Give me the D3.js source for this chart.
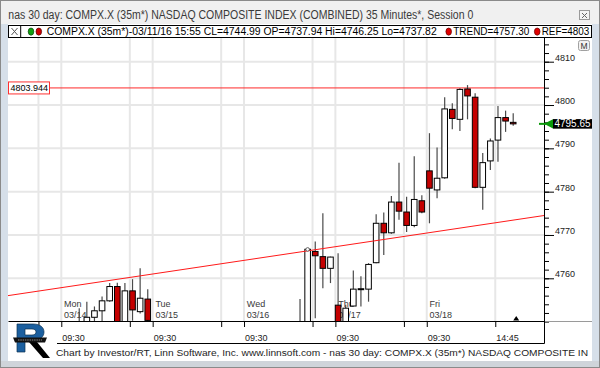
<!DOCTYPE html>
<html><head><meta charset="utf-8">
<script src="https://cdn.jsdelivr.net/npm/d3@7"></script>
<style>
body{margin:0;background:#f0f0f0;overflow:hidden}
svg{display:block}
text{font-family:"Liberation Sans",Arial,sans-serif}
</style>
</head><body><svg id="c" width="600" height="368"></svg>
<script>
// ---------------- DATA ----------------
const dayNames = ["Fri","Mon","Tue","Wed","Thu","Fri"];
const dayDates = ["03/11","03/14","03/15","03/16","03/17","03/18"];
const barTimes = ["09:30","10:05","10:40","11:15","11:50","12:25","13:00","13:35","14:10","14:45","15:20","15:55"];
const firstDayStartBar = 5; // 03/11 data on chart starts with 12:25 bar
// 35-minute OHLC bars, 03/11 12:25 ... 03/18 15:55
const opens = [
 4735,4737,4739,4736,4738,4741,4737.94,
 4745,4741,4744,4749.0,4751.0,4752.5,4754.8,4758.1,4749.8,4757.1,4752.3,4755.2,
 4733,4725,4720,4723,4726,4724,4727,4725,4728,4726,4730,4727,
 4726,4723,4727,4730,4732,4731,4734,4736,4744,4766.2,4765.0,4762.3,
 4753.8,4747,4753.6,4757.5,4757.5,4763.6,4772.7,4770.5,4777.6,4775.3,4772.2,4777.9,
 4784.8,4780.4,4783.2,4799.0,4796.7,4803.7,4801.8,4781.0,4787.1,4791.9,4797.1,4796.0];
const highs = [
 4739,4741,4742,4740,4743,4744,4746.25,
 4748,4746,4753.1,4754.6,4753.5,4755.8,4758.9,4759.0,4758.9,4759.8,4762.3,4757.5,
 4738,4729,4726,4728,4730,4729,4731,4730,4733,4732,4735,4733,
 4732,4729,4733,4735,4737,4736,4740,4755.2,4766.9,4768.5,4775.0,4765.0,
 4765.8,4753.9,4761.8,4760.5,4763.5,4774.8,4775.2,4779.0,4786.7,4778.8,4788.2,4779.2,
 4793.5,4790.2,4801.8,4800.4,4803.9,4804.6,4802.7,4788.9,4792.3,4799.8,4798.7,4798.1];
const lows = [
 4731,4734,4735,4733,4736,4736,4737.82,
 4738,4736,4742,4747,4749.8,4750.1,4754.6,4749.2,4749.3,4750.2,4751.9,4748.5,
 4722,4716,4714,4719,4722,4720,4723,4721,4724,4723,4726,4724,
 4719,4718,4724,4726,4728,4727,4730,4733,4738,4750.8,4757.7,4758.9,
 4744,4742,4753.5,4753.5,4754.6,4763.5,4765.4,4770.3,4773.5,4770.7,4771.8,4775.0,
 4772.7,4778.5,4783.0,4794.4,4794.0,4796.7,4780.8,4775.8,4785.0,4786.9,4793.8,4795.2];
const closes = [
 4737,4739,4736,4738,4741,4737.9,4744.99,
 4741,4744,4748,4751.0,4752.5,4754.8,4758.1,4749.6,4757.1,4752.7,4755.4,4750.28,
 4725,4720,4723,4726,4724,4727,4725,4728,4726,4730,4727,4728.67,
 4723,4727,4730,4732,4731,4734,4736,4744,4766.7,4765.2,4762.3,4764.9,
 4746,4753.1,4757.5,4757.6,4763.2,4772.7,4770.5,4777.6,4775.5,4772.2,4778.2,4775.3,
 4780.8,4783.1,4799.1,4796.9,4803.6,4802.1,4781.0,4786.7,4791.7,4797.1,4796.3,4795.65];
const refValue = 4803.944;
const trendBars = [0, 67];
const trendValues = [4756.0, 4773.6];
const trendAnchorBar = 39;
const lastPrice = 4795.65;
const yMinorTicks = d3.range(4750, 4815, 2);
const yMajorTicks = [4760, 4770, 4780, 4790, 4800, 4810];
const titleText = "nas 30 day: COMPX.X (35m*) NASDAQ COMPOSITE INDEX (COMBINED) 35 Minutes*, Session 0";
const legendMain = "COMPX.X (35m*)-03/11/16 15:55 CL=4744.99 OP=4737.94 Hi=4746.25 Lo=4737.82";
const legendTrend = "TREND=4757.30";
const legendRef = "REF=4803";
const footerText = "Chart by Investor/RT, Linn Software, Inc. www.linnsoft.com - nas 30 day: COMPX.X (35m*) NASDAQ COMPOSITE IN";

// ---------------- BUILD ----------------
const bars = [];
let idx = 0;
dayDates.forEach((d, di) => {
  const s = di === 0 ? firstDayStartBar : 0;
  for (let k = s; k < 12; k++) {
    bars.push({i: idx, day: di, k, time: barTimes[k], o: opens[idx], h: highs[idx], l: lows[idx], c: closes[idx]});
    idx++;
  }
});

const plotL = 8, plotR = 544, plotT = 38, plotB = 321;
const emptyBarsRight = 3.4;
const x = d3.scaleLinear().domain([0, bars.length + emptyBarsRight]).range([plotL, plotR]);
const cx = i => x(i + 0.355);
const y = d3.scaleLinear().domain([4760, 4810]).range([278.3, 61.7]);

const svg = d3.select('#c');

// frame
svg.append('rect').attr('x',0).attr('y',0).attr('width',600).attr('height',368).attr('fill','#f0f0f0');
svg.append('rect').attr('x',0).attr('y',24).attr('width',600).attr('height',338).attr('fill','#d6dfe9');
svg.append('rect').attr('x',8).attr('y',24).attr('width',584).attr('height',337).attr('fill','#ffffff');
svg.append('rect').attr('x',0).attr('y',361).attr('width',600).attr('height',7).attr('fill','#cfd4da');
svg.append('rect').attr('x',0.5).attr('y',0.5).attr('width',599).attr('height',367).attr('fill','none').attr('stroke','#8a8a8a');

// title
svg.append('text').attr('x',8.3).attr('y',19.3).attr('font-size',12).attr('fill','#3a3a3a')
  .attr('textLength',465).attr('lengthAdjust','spacingAndGlyphs').text(titleText);
// close icon
svg.append('rect').attr('x',579.5).attr('y',10.5).attr('width',10).attr('height',9).attr('fill','#f4f4f4').attr('stroke','#9a9a9a');
svg.append('path').attr('d','M582,13L587,18M587,13L582,18').attr('stroke','#666').attr('stroke-width',1);

// legend row
svg.append('rect').attr('x',8.5).attr('y',25.5).attr('width',583).attr('height',12).attr('fill','#fff').attr('stroke','#000');
svg.append('line').attr('x1',20.7).attr('x2',20.7).attr('y1',25.5).attr('y2',37.5).attr('stroke','#000');
svg.append('path').attr('d','M11.5,28L17.5,35M17.5,28L11.5,35').attr('stroke','#555').attr('stroke-width',1);
svg.append('ellipse').attr('cx',31).attr('cy',31.6).attr('rx',2.8).attr('ry',3.6).attr('fill','#10a010').attr('stroke','#064006').attr('stroke-width',0.7);
svg.append('ellipse').attr('cx',38.8).attr('cy',31.6).attr('rx',2.8).attr('ry',3.6).attr('fill','#d00000').attr('stroke','#500000').attr('stroke-width',0.7);
svg.append('text').attr('x',46.7).attr('y',35.3).attr('font-size',10).attr('fill','#000')
  .attr('textLength',390).attr('lengthAdjust','spacingAndGlyphs').text(legendMain);
svg.append('ellipse').attr('cx',448.7).attr('cy',31.6).attr('rx',2.8).attr('ry',3.6).attr('fill','#e00000').attr('stroke','#600000').attr('stroke-width',0.7);
svg.append('text').attr('x',453.3).attr('y',35.3).attr('font-size',10).attr('fill','#000')
  .attr('textLength',76).attr('lengthAdjust','spacingAndGlyphs').text(legendTrend);
svg.append('ellipse').attr('cx',537.2).attr('cy',31.6).attr('rx',2.8).attr('ry',3.6).attr('fill','#e00000').attr('stroke','#600000').attr('stroke-width',0.7);
svg.append('text').attr('x',541.7).attr('y',35.3).attr('font-size',10).attr('fill','#000')
  .attr('textLength',47.6).attr('lengthAdjust','spacingAndGlyphs').text(legendRef);

// gridlines
const tickBars = bars.filter(b => b.time === "09:30" || b.time === "14:45");
const grid = svg.append('g');
grid.selectAll('line.h').data(yMajorTicks).join('line')
  .attr('x1',plotL).attr('x2',plotR).attr('y1',d=>y(d)).attr('y2',d=>y(d))
  .attr('stroke','#e7e7e7').attr('stroke-width',2);
grid.selectAll('line.v').data(tickBars).join('line')
  .attr('x1',d=>x(d.i)).attr('x2',d=>x(d.i)).attr('y1',plotT).attr('y2',plotB)
  .attr('stroke','#e7e7e7').attr('stroke-width',2);

// day labels
const dayStarts = bars.filter(b => b.time === "09:30");
const dl = svg.append('g').attr('font-size',9).attr('fill','#3a3a3a');
dl.selectAll('text.n').data(dayStarts).join('text').attr('x',d=>x(d.i)+2.8).attr('y',307)
  .text(d=>dayNames[d.day]);
dl.selectAll('text.d').data(dayStarts).join('text').attr('x',d=>x(d.i)+2.8).attr('y',317.5)
  .text(d=>dayDates[d.day]);

// clip
svg.append('clipPath').attr('id','pc').append('rect').attr('x',plotL).attr('y',plotT).attr('width',plotR-plotL).attr('height',plotB-plotT);
const pg = svg.append('g').attr('clip-path','url(#pc)');

// REF line
pg.append('line').attr('x1',plotL).attr('x2',plotR).attr('y1',y(refValue)).attr('y2',y(refValue))
  .attr('stroke','#ff2a2a').attr('stroke-width',1);

// candles
const cg = pg.append('g');
cg.selectAll('line.w').data(bars).join('line')
  .attr('x1',d=>cx(d.i)).attr('x2',d=>cx(d.i)).attr('y1',d=>y(d.h)).attr('y2',d=>y(d.l))
  .attr('stroke','#4a4a4a').attr('stroke-width',1.2);
cg.selectAll('rect.b').data(bars).join('rect')
  .attr('x',d=>cx(d.i)-2.8).attr('width',5.6)
  .attr('y',d=>y(Math.max(d.o,d.c))).attr('height',d=>Math.max(1,Math.abs(y(d.o)-y(d.c))))
  .attr('fill',d=>d.c < d.o ? '#c40000' : '#ffffff').attr('stroke','#000').attr('stroke-width',1);

// trendline
const tSlope = (trendValues[1]-trendValues[0])/(trendBars[1]-trendBars[0]);
const tVal = b => trendValues[0] + (b - trendBars[0]) * tSlope;
const xEnd = bars.length + emptyBarsRight;
pg.append('line').attr('x1',x(0)).attr('y1',y(tVal(0))).attr('x2',x(xEnd)).attr('y2',y(tVal(xEnd)))
  .attr('stroke','#ff1a1a').attr('stroke-width',1);
pg.append('circle').attr('cx',cx(trendAnchorBar)).attr('cy',y(highs[trendAnchorBar])+1).attr('r',1.8)
  .attr('fill','#fff').attr('stroke','#444').attr('stroke-width',0.8);

// REF label
svg.append('rect').attr('x',8.5).attr('y',y(refValue)-6).attr('width',41).attr('height',12)
  .attr('fill','#fff').attr('stroke','#ff3030');
svg.append('text').attr('x',10.5).attr('y',y(refValue)+3.5).attr('font-size',9).attr('fill','#000').text(refValue.toFixed(3));

// right axis
const ra = svg.append('g').attr('transform',`translate(${plotR},0)`);
ra.call(d3.axisRight(y).tickValues(yMinorTicks).tickSize(5).tickFormat(''))
  .call(g=>g.select('.domain').remove());
const rb = svg.append('g').attr('transform',`translate(${plotR},0)`);
rb.call(d3.axisRight(y).tickValues(yMajorTicks).tickSize(10).tickPadding(1).tickFormat(d3.format('d')))
  .call(g=>g.select('.domain').remove())
  .call(g=>g.selectAll('text').attr('dy','-0.15em').attr('font-size',9).attr('font-family','Liberation Sans, Arial, sans-serif').attr('fill','#222'));
ra.selectAll('line').attr('stroke','#000');
rb.selectAll('line').attr('stroke','#000');
svg.append('line').attr('x1',plotR+0.5).attr('x2',plotR+0.5).attr('y1',plotT).attr('y2',plotB).attr('stroke','#000');

// last price marker
const ly = y(lastPrice);
svg.append('line').attr('x1',539).attr('x2',546).attr('y1',ly).attr('y2',ly).attr('stroke','#0a9a0a').attr('stroke-width',2);
svg.append('path').attr('d',`M544,${ly}L553,${ly-4.6}L553,${ly+4.6}Z`).attr('fill','#0a9a0a');
svg.append('rect').attr('x',553).attr('y',ly-4.8).attr('width',39).attr('height',9.6).attr('fill','#000');
svg.append('text').attr('x',554.5).attr('y',ly+3.6).attr('font-size',10).attr('fill','#fff')
  .attr('textLength',36).attr('lengthAdjust','spacingAndGlyphs').text(lastPrice.toFixed(2));

// M button
svg.append('rect').attr('x',578.5).attr('y',40.5).attr('width',11).attr('height',10).attr('rx',2)
  .attr('fill','#f2f2f2').attr('stroke','#a0a0a0');
svg.append('text').attr('x',584).attr('y',48.5).attr('text-anchor','middle').attr('font-size',8.5).attr('fill','#333').text('M');

// bottom axis
const lastTick = tickBars[tickBars.length-1];
const xa = svg.append('g').attr('transform',`translate(0,${plotB})`);
xa.call(d3.axisBottom(x).tickValues(tickBars.map(b=>b.i)).tickSize(6).tickSizeOuter(0).tickPadding(8)
    .tickFormat(i => { const b = bars[i]; return (b.time === "09:30" || b === lastTick) ? b.time : ""; }))
  .call(g=>g.select('.domain').attr('stroke','#000'))
  .call(g=>g.selectAll('.tick line').attr('stroke','#000'))
  .call(g=>g.selectAll('text').attr('text-anchor','start').attr('x',0.5).attr('font-size',9)
     .attr('font-family','Liberation Sans, Arial, sans-serif').attr('fill','#222'));
svg.append('line').attr('x1',plotR).attr('x2',592).attr('y1',plotB+0.5).attr('y2',plotB+0.5).attr('stroke','#9a9a9a');
svg.append('path').attr('d',`M57,343.5H${plotR+0.5}V${plotB}`).attr('fill','none').attr('stroke','#000');

// end-of-data marker
const mk = x(bars.length - 1 + 0.75);
svg.append('path').attr('d',`M${mk-3},${plotB-0.5}L${mk+3},${plotB-0.5}L${mk},${plotB-5}Z`).attr('fill','#000');

// logo (drawn as shapes)
const logo = svg.append('g');
logo.append('path')
  .attr('d','M17,324H33C41,324 44,328 44,332C44,337 40,340 34,340L25,340V352H17Z M25,329H32C35,329 36,330.5 36,332C36,333.5 35,335 32,335H25Z')
  .attr('fill-rule','evenodd').attr('fill','#1b5f9f').attr('stroke','#0d3050').attr('stroke-width',0.7);
logo.append('path').attr('d','M29,342L37,342L50,358L43,358Z').attr('fill','#000');
logo.append('path').attr('d','M13,337.5L47,337.5L45,342.5L15,342.5Z').attr('fill','#111');
logo.append('path').attr('d','M18,340H42').attr('stroke','#ddd').attr('stroke-width',0.6).attr('stroke-dasharray','1.5,0.8');

// footer
svg.append('text').attr('x',56).attr('y',356).attr('font-size',9.6).attr('fill','#1e1e1e')
  .attr('textLength',532).attr('lengthAdjust','spacingAndGlyphs').text(footerText);
</script>
</body></html>
